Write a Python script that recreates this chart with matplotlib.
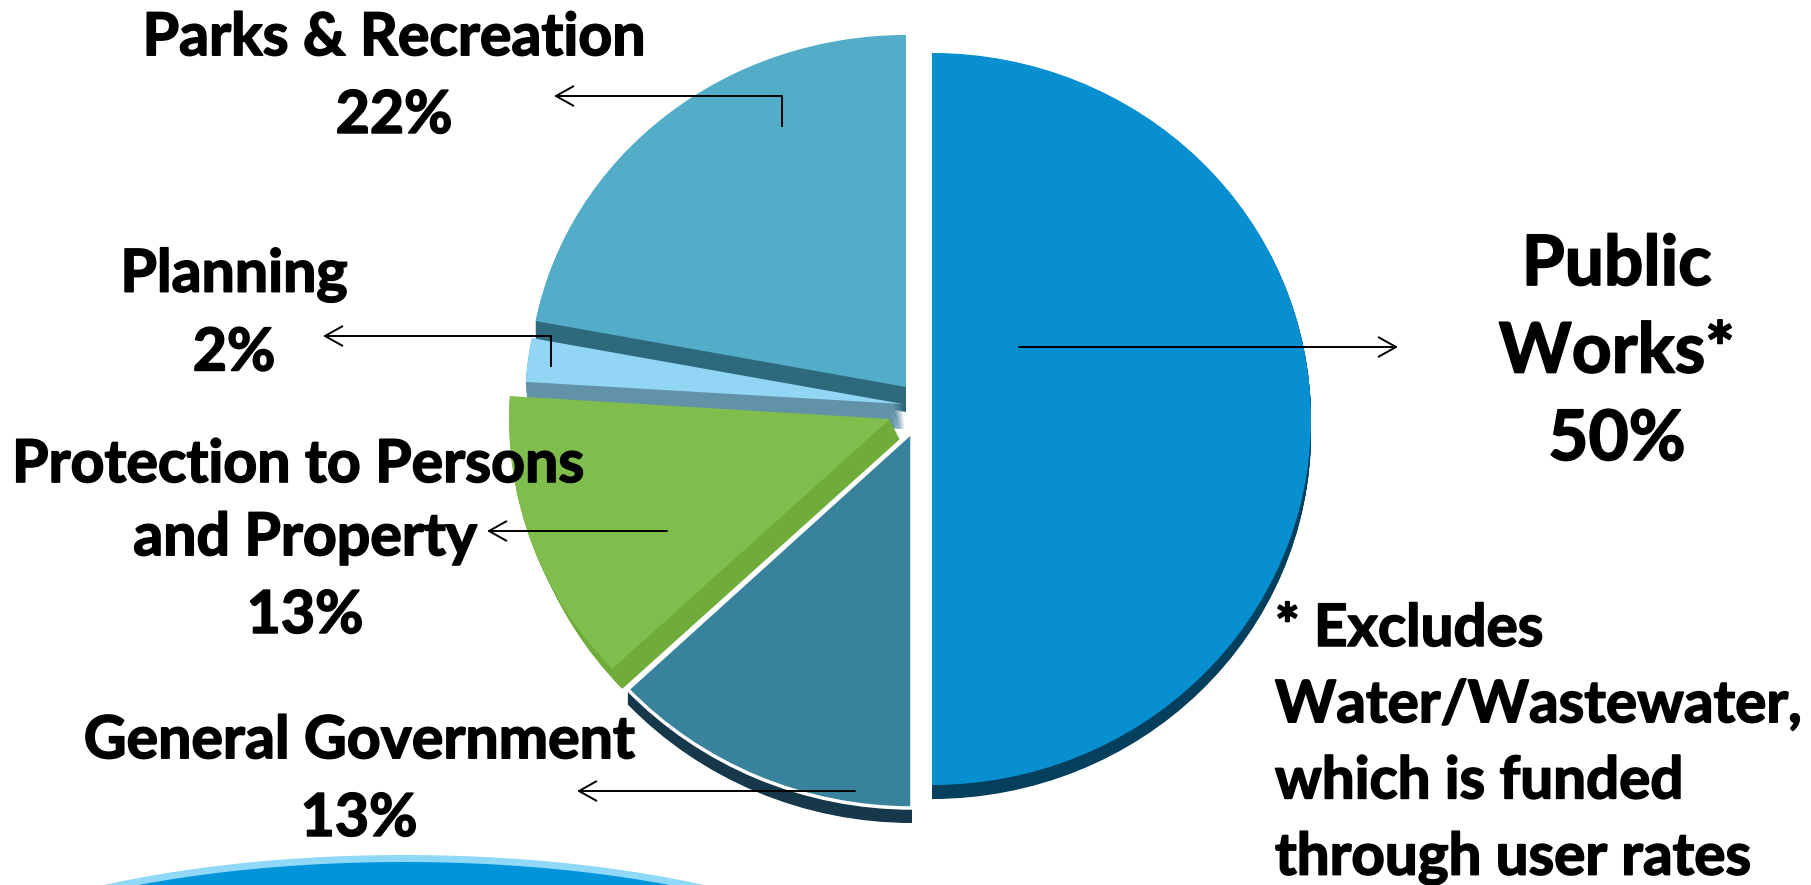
import matplotlib
matplotlib.use("Agg")
import matplotlib.pyplot as plt
import matplotlib.patheffects as pe
from matplotlib.patches import Ellipse
from matplotlib.transforms import Affine2D

W, H = 1811, 885

# slices, clockwise from the top
names = ["Public Works", "General Government", "Protection", "Planning", "Parks & Recreation"]
shares = [50, 13, 13, 2, 22]
face_colors = ["#078FD0", "#38829C", "#7FBE4C", "#93D5F5", "#54ADC8"]
side_colors = ["#053F5E", "#17384A", "#6FAC3A", "#6292A8", "#2E6A7E"]

# where each slice sits on the canvas (pixels, y down): apex x, apex y, rx, ry, side dx, side dy
slice_layout = [
    (932, 419, 379, 366, 0, 14),
    (912, 432, 390, 376, 0, 15),
    (890, 419, 381, 365, 10, 20),
    (903, 404, 378, 352, 2, 25),
    (906, 387, 377, 352, 0, 25),
]
# painting order, back to front
stack = [4, 3, 2, 1, 0]
SIDE_STEPS = 26

# text, centre x, centre y, size, alignment, line spacing
labels = [
    ("Parks & Recreation\n22%", 394, 77, 42.5, "center", 1.54),
    ("Planning\n2%", 234, 314, 42.5, "center", 1.54),
    ("Protection to Persons", 298, 465, 42.5, "center", 1.54),
    ("and Property\n13%", 305, 577, 42.5, "center", 1.54),
    ("General Government\n13%", 359, 780, 42.5, "center", 1.54),
    ("Public\nWorks*\n50%", 1617, 353, 50, "center", 1.48),
    ("* Excludes\nWater/Wastewater,\nwhich is funded\nthrough user rates", 1275, 744, 42, "left", 1.54),
]

# leader paths, last point is the arrow tip
leaders = [
    [(782, 127), (782, 96), (554, 96)],
    [(551, 367), (551, 336), (323, 336)],
    [(1019, 347), (1398, 347)],
    [(667, 531), (487, 531)],
    [(855, 791), (577, 791)],
]


def yy(y):
    return H - y


fig = plt.figure(figsize=(W / 100, H / 100), dpi=100)
ax = fig.add_axes([0, 0, 1, 1])

# the thickness of each slice is the same pie repeated a little lower every step
for step in range(1, SIDE_STEPS + 1):
    frac = step / SIDE_STEPS
    side_wedges, _ = ax.pie(shares, colors=side_colors, startangle=90, counterclock=False)
    for z, i in enumerate(stack):
        cx, cy, rx, ry, dx, dy = slice_layout[i]
        side_wedges[i].set_transform(
            Affine2D().scale(rx, ry).translate(cx + dx * frac, yy(cy + dy * frac)) + ax.transData)
        side_wedges[i].set_zorder(2 + 2 * z)

top_wedges, _ = ax.pie(shares, colors=face_colors, startangle=90, counterclock=False)
for z, i in enumerate(stack):
    cx, cy, rx, ry, dx, dy = slice_layout[i]
    top_wedges[i].set_transform(Affine2D().scale(rx, ry).translate(cx, yy(cy)) + ax.transData)
    top_wedges[i].set_zorder(3 + 2 * z)

ax.set_xlim(0, W)
ax.set_ylim(0, H)
ax.set_aspect("auto")
ax.axis("off")

# white seam between the green slice and general government
top_wedges[1].set_edgecolor("white")
top_wedges[1].set_linewidth(2.5)

# base of the slide at the bottom
ax.add_patch(Ellipse((404, yy(855 + 164)), 1040, 328, fc="#8FD8F8", ec="none", zorder=1))
ax.add_patch(Ellipse((404, yy(862 + 164)), 1040, 328, fc="#0095DA", ec="none", zorder=1.5))

for path in leaders:
    xs = [p[0] for p in path]
    ys = [yy(p[1]) for p in path]
    ax.plot(xs[:-1], ys[:-1], color="black", lw=1.4, zorder=20, solid_capstyle="butt")
    ax.annotate("", xy=(xs[-1], ys[-1]), xytext=(xs[-2], ys[-2]), zorder=20,
                arrowprops=dict(arrowstyle="->,head_length=1.25,head_width=0.7", lw=1.4,
                                color="black", shrinkA=0, shrinkB=0))

for txt, x, y, size, ha, spacing in labels:
    t = ax.text(x, yy(y), txt, fontsize=size, fontweight="bold", family="Lato", ha=ha, va="center",
                multialignment=ha, linespacing=spacing, color="black", zorder=30)
    t.set_path_effects([pe.withStroke(linewidth=1.2, foreground="black")])

fig.savefig("out.png", dpi=100, facecolor="white")
